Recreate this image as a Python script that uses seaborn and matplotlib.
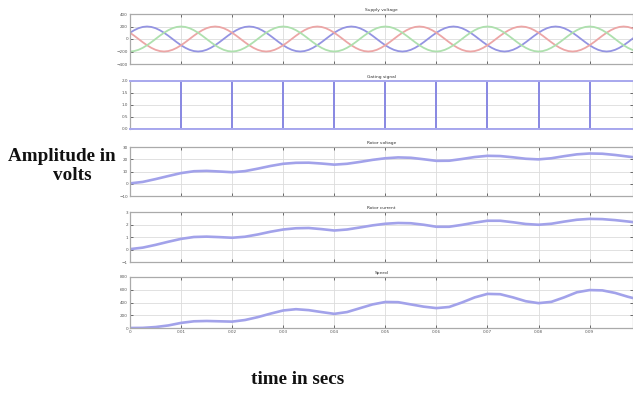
import numpy as np
import pandas as pd
import matplotlib
matplotlib.use("Agg")
import matplotlib.pyplot as plt
import seaborn as sns

# --- dados ---
# tensão de alimentação trifásica, amostrada a cada 1/1200 s (15 graus)
supply_t = [i / 1200 for i in range(121)]
supply_blue = (
    [100, 141, 173, 193, 200, 193, 173, 141, 100, 52, 0, -52, -100, -141, -173, -193, -200, -193, -173, -141, -100, -52, 0, 52]
    + [100, 141, 173, 193, 200, 193, 173, 141, 100, 52, 0, -52, -100, -141, -173, -193, -200, -193, -173, -141, -100, -52, 0, 52]
    + [100, 141, 173, 193, 200, 193, 173, 141, 100, 52, 0, -52, -100, -141, -173, -193, -200, -193, -173, -141, -100, -52, 0, 52]
    + [100, 141, 173, 193, 200, 193, 173, 141, 100, 52, 0, -52, -100, -141, -173, -193, -200, -193, -173, -141, -100, -52, 0, 52]
    + [100, 141, 173, 193, 200, 193, 173, 141, 100, 52, 0, -52, -100, -141, -173, -193, -200, -193, -173, -141, -100, -52, 0, 52]
    + [100]
)
supply_red = (
    [100, 52, 0, -52, -100, -141, -173, -193, -200, -193, -173, -141, -100, -52, 0, 52, 100, 141, 173, 193, 200, 193, 173, 141]
    + [100, 52, 0, -52, -100, -141, -173, -193, -200, -193, -173, -141, -100, -52, 0, 52, 100, 141, 173, 193, 200, 193, 173, 141]
    + [100, 52, 0, -52, -100, -141, -173, -193, -200, -193, -173, -141, -100, -52, 0, 52, 100, 141, 173, 193, 200, 193, 173, 141]
    + [100, 52, 0, -52, -100, -141, -173, -193, -200, -193, -173, -141, -100, -52, 0, 52, 100, 141, 173, 193, 200, 193, 173, 141]
    + [100, 52, 0, -52, -100, -141, -173, -193, -200, -193, -173, -141, -100, -52, 0, 52, 100, 141, 173, 193, 200, 193, 173, 141]
    + [100]
)
supply_green = (
    [-200, -193, -173, -141, -100, -52, 0, 52, 100, 141, 173, 193, 200, 193, 173, 141, 100, 52, 0, -52, -100, -141, -173, -193]
    + [-200, -193, -173, -141, -100, -52, 0, 52, 100, 141, 173, 193, 200, 193, 173, 141, 100, 52, 0, -52, -100, -141, -173, -193]
    + [-200, -193, -173, -141, -100, -52, 0, 52, 100, 141, 173, 193, 200, 193, 173, 141, 100, 52, 0, -52, -100, -141, -173, -193]
    + [-200, -193, -173, -141, -100, -52, 0, 52, 100, 141, 173, 193, 200, 193, 173, 141, 100, 52, 0, -52, -100, -141, -173, -193]
    + [-200, -193, -173, -141, -100, -52, 0, 52, 100, 141, 173, 193, 200, 193, 173, 141, 100, 52, 0, -52, -100, -141, -173, -193]
    + [-200]
)

# pulsos de disparo
pulse_times = [0.01, 0.02, 0.03, 0.04, 0.05, 0.06, 0.07, 0.08, 0.09]
pulse_height = 2

# grandezas do motor, amostradas a cada 0.0025 s
motor_t = [i * 0.0025 for i in range(41)]
motor_voltage = [0.3, 1.5, 3.8, 6.3, 8.7, 10.2, 10.5, 10.0, 9.4, 10.3,
                 12.3, 14.5, 16.3, 17.1, 17.2, 16.5, 15.6, 16.3, 17.8, 19.5,
                 20.8, 21.5, 21.2, 20.0, 18.7, 18.8, 20.2, 21.8, 22.8, 22.6,
                 21.6, 20.4, 19.9, 20.8, 22.5, 24.0, 24.7, 24.5, 23.5, 22.2, 21.0]
motor_current = [0.03, 0.15, 0.37, 0.62, 0.85, 1.00, 1.03, 0.99, 0.94, 1.02,
                 1.20, 1.42, 1.60, 1.70, 1.72, 1.63, 1.52, 1.60, 1.76, 1.93,
                 2.06, 2.12, 2.10, 1.98, 1.82, 1.82, 1.97, 2.15, 2.30, 2.30,
                 2.18, 2.04, 1.98, 2.06, 2.23, 2.38, 2.45, 2.43, 2.35, 2.24, 2.12]
speed = [0, 2, 15, 40, 80, 105, 110, 105, 100, 125,
         170, 225, 275, 295, 280, 250, 222, 250, 310, 370,
         408, 405, 370, 335, 312, 330, 400, 480, 535, 530,
         480, 420, 390, 410, 480, 560, 595, 590, 550, 490, 440]

titles = ["Supply voltage", "Gating signal", "Rotor voltage", "Rotor current", "Speed"]
y_ticks = [[-400, -200, 0, 200, 400],
           [0, 0.5, 1, 1.5, 2],
           [-10, 0, 10, 20, 30],
           [-1, 0, 1, 2, 3],
           [0, 200, 400, 600, 800]]
x_ticks = [0, 0.01, 0.02, 0.03, 0.04, 0.05, 0.06, 0.07, 0.08, 0.09]
x_tick_labels = ["0", "0.01", "0.02", "0.03", "0.04", "0.05", "0.06", "0.07", "0.08", "0.09"]

sns.set_style("white")

fig = plt.figure(figsize=(6.33, 3.96), dpi=100)
H = 396.0
W = 633.0
panels_px = [(14, 64), (81, 129), (147, 196), (212, 262), (277, 328)]
left_px = 130
axes = []
for top, bot in panels_px:
    ax = fig.add_axes([left_px / W, 1 - bot / H, (W - left_px) / W, (bot - top) / H])
    axes.append(ax)

line_col = "#a2a2ea"

# painel 1 - alimentação trifásica
df_sup = pd.DataFrame({"t": supply_t, "blue": supply_blue, "red": supply_red, "green": supply_green})
sns.lineplot(data=df_sup, x="t", y="blue", ax=axes[0], color="#9494e2", lw=1.3)
sns.lineplot(data=df_sup, x="t", y="red", ax=axes[0], color="#eca6a6", lw=1.3)
sns.lineplot(data=df_sup, x="t", y="green", ax=axes[0], color="#aee0ae", lw=1.3)

# painel 2 - pulsos
gx, gy = [0], [0]
for p in pulse_times:
    gx += [p, p, p]
    gy += [0, pulse_height, 0]
gx.append(0.1)
gy.append(0)
sns.lineplot(x=gx, y=gy, ax=axes[1], color="#8a8ae2", lw=1.1, sort=False, estimator=None)

# painéis 3 a 5
sns.lineplot(x=motor_t, y=motor_voltage, ax=axes[2], color=line_col, lw=1.9)
sns.lineplot(x=motor_t, y=motor_current, ax=axes[3], color=line_col, lw=1.9)
sns.lineplot(x=motor_t, y=speed, ax=axes[4], color=line_col, lw=1.9)

for i, ax in enumerate(axes):
    ax.set_xlim(0, 0.0985)
    ax.set_ylim(y_ticks[i][0], y_ticks[i][-1])
    ax.set_yticks(y_ticks[i])
    ax.set_xticks(x_ticks)
    ax.grid(True, color="#dcdcdc", lw=0.6)
    ax.tick_params(direction="in", length=2.5, width=0.6, colors="#555555",
                   labelsize=3, pad=1.5, top=True, right=True, bottom=True, left=True)
    ax.set_xlabel("")
    ax.set_ylabel("")
    ax.set_title(titles[i], fontsize=3.2, pad=2.5, color="#333333")
    for s in ax.spines.values():
        s.set_color("#aaaaaa")
        s.set_linewidth(0.9)
    if i < 4:
        ax.set_xticklabels([])
    else:
        ax.set_xticklabels(x_tick_labels)

# no painel de pulsos o sinal fica sobre as bordas
axes[1].spines["top"].set_color("#a8a8ee")
axes[1].spines["bottom"].set_color("#a8a8ee")
axes[1].spines["top"].set_linewidth(1.4)
axes[1].spines["bottom"].set_linewidth(1.4)

fig.text(62 / W, 1 - 157 / H, "Amplitude in", family="Liberation Serif", fontweight="bold",
         fontsize=13.8, ha="center", va="center", color="#111111")
fig.text(72 / W, 1 - 176 / H, "volts", family="Liberation Serif", fontweight="bold",
         fontsize=13.8, ha="center", va="center", color="#111111")
fig.text(298 / W, 1 - 380 / H, "time in secs", family="Liberation Serif", fontweight="bold",
         fontsize=13.8, ha="center", va="center", color="#111111")

fig.savefig("out.png", dpi=100)
